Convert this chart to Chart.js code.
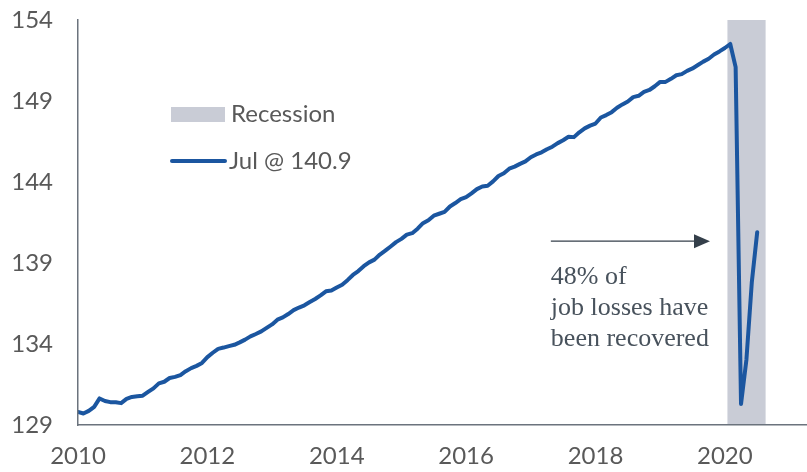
<!DOCTYPE html>
<html>
<head>
<meta charset="utf-8">
<script src="https://cdn.jsdelivr.net/npm/chart.js@4"></script>
<style>
  body { margin: 0; background: #fff; }
  #wrap { width: 807px; height: 472px; position: relative; }
</style>
</head>
<body>
<div id="wrap"><canvas id="jobsChart"></canvas></div>
<script>
// nonfarm payrolls, millions, monthly from Jan 2010 to Jul 2020
const startYear = 2010;
const payrolls = [
  129.80, 129.71, 129.87, 130.12, 130.64, 130.48, 130.41, 130.41, 130.35, 130.61, 130.73, 130.77,
  130.81, 131.04, 131.26, 131.57, 131.67, 131.90, 131.97, 132.08, 132.32, 132.51, 132.65, 132.83,
  133.19, 133.46, 133.70, 133.78, 133.87, 133.95, 134.10, 134.27, 134.47, 134.62, 134.78, 135.00,
  135.21, 135.50, 135.64, 135.85, 136.09, 136.25, 136.39, 136.59, 136.78, 137.00, 137.25, 137.30,
  137.49, 137.66, 137.94, 138.26, 138.50, 138.80, 139.04, 139.21, 139.52, 139.76, 140.02, 140.29,
  140.49, 140.75, 140.84, 141.12, 141.46, 141.64, 141.92, 142.04, 142.16, 142.49, 142.70, 142.94,
  143.07, 143.30, 143.56, 143.72, 143.77, 144.04, 144.37, 144.54, 144.82, 144.95, 145.12, 145.27,
  145.53, 145.70, 145.83, 146.02, 146.18, 146.40, 146.58, 146.79, 146.77, 147.07, 147.31, 147.48,
  147.61, 147.98, 148.13, 148.31, 148.58, 148.79, 148.97, 149.24, 149.32, 149.56, 149.68, 149.91,
  150.18, 150.18, 150.37, 150.59, 150.66, 150.86, 151.01, 151.22, 151.43, 151.61, 151.87, 152.06,
  152.27, 152.52, 151.09, 130.30, 133.03, 137.81, 140.90
];
const yTicks = [129, 134, 139, 144, 149, 154];
const xTicks = [2010, 2012, 2014, 2016, 2018, 2020];
const recession = [2020.04, 2020.63];
const legendLabels = ['Recession', 'Jul @ 140.9'];
const noteLines = ['48% of', 'job losses have', 'been recovered'];
const arrowFrom = [2017.31, 140.35];
const arrowTo = [2019.77, 140.35];

const blue = '#1B56A0';
const band = '#C9CCD6';
const textGrey = '#595959';
const axisGrey = '#6B737D';

const points = payrolls.map((v, i) => ({ x: startYear + i / 12, y: v }));

const overlay = {
  id: 'overlay',
  beforeDraw(chart) {
    const { ctx, chartArea, scales: { x } } = chart;
    const x0 = x.getPixelForValue(recession[0]);
    const x1 = x.getPixelForValue(recession[1]);
    ctx.save();
    ctx.fillStyle = band;
    ctx.fillRect(x0, chartArea.top, x1 - x0, chartArea.bottom - chartArea.top);
    ctx.restore();
  },
  afterDraw(chart) {
    const { ctx, scales: { x, y } } = chart;
    ctx.save();
    // legend
    ctx.fillStyle = band;
    ctx.fillRect(171, 107, 54, 15);
    ctx.strokeStyle = blue;
    ctx.lineWidth = 4;
    ctx.lineCap = 'round';
    ctx.beginPath();
    ctx.moveTo(172, 161);
    ctx.lineTo(225, 161);
    ctx.stroke();
    ctx.fillStyle = textGrey;
    ctx.font = '24px Lato';
    ctx.textBaseline = 'middle';
    ctx.fillText(legendLabels[0], 231, 114);
    ctx.fillText(legendLabels[1], 229, 161);

    // arrow
    const ax0 = x.getPixelForValue(arrowFrom[0]);
    const ax1 = x.getPixelForValue(arrowTo[0]);
    const ay = y.getPixelForValue(arrowFrom[1]);
    ctx.strokeStyle = '#343F4A';
    ctx.fillStyle = '#343F4A';
    ctx.lineWidth = 1.2;
    ctx.lineCap = 'butt';
    ctx.beginPath();
    ctx.moveTo(ax0, ay);
    ctx.lineTo(ax1 - 12, ay);
    ctx.stroke();
    ctx.beginPath();
    ctx.moveTo(ax1, ay);
    ctx.lineTo(ax1 - 16, ay - 7);
    ctx.lineTo(ax1 - 16, ay + 7);
    ctx.closePath();
    ctx.fill();

    // note
    ctx.fillStyle = '#48525C';
    ctx.font = '26px "Liberation Serif"';
    ctx.textBaseline = 'middle';
    noteLines.forEach((t, i) => ctx.fillText(t, ax0, 277 + i * 31));
    ctx.restore();
  }
};

new Chart(document.getElementById('jobsChart'), {
  type: 'line',
  data: {
    datasets: [{
      data: points,
      borderColor: blue,
      borderWidth: 4,
      pointRadius: 0,
      tension: 0,
      borderJoinStyle: 'round',
      borderCapStyle: 'round'
    }]
  },
  options: {
    responsive: true,
    maintainAspectRatio: false,
    animation: false,
    layout: { padding: { top: 20, right: 0, left: 0, bottom: 0 } },
    plugins: { legend: { display: false }, tooltip: { enabled: false } },
    scales: {
      x: {
        type: 'linear',
        min: 2010,
        max: 2021.27,
        afterBuildTicks: s => { s.ticks = xTicks.map(v => ({ value: v })); },
        ticks: { color: textGrey, font: { family: 'Lato', size: 24 }, padding: 17, callback: v => String(v), maxRotation: 0 },
        grid: { display: false, drawTicks: false },
        border: { color: axisGrey, width: 1.5, z: 1 },
        afterFit: s => { s.height = 47; }
      },
      y: {
        min: 129,
        max: 154,
        afterBuildTicks: s => { s.ticks = yTicks.map(v => ({ value: v })); },
        ticks: { color: textGrey, font: { family: 'Lato', size: 24 }, padding: 25 },
        grid: { display: false, drawTicks: false },
        border: { color: axisGrey, width: 1.5, z: 1 },
        afterFit: s => { s.width = 78; s.paddingTop = 0; s.paddingBottom = 0; }
      }
    }
  },
  plugins: [overlay]
});
</script>
</body>
</html>
